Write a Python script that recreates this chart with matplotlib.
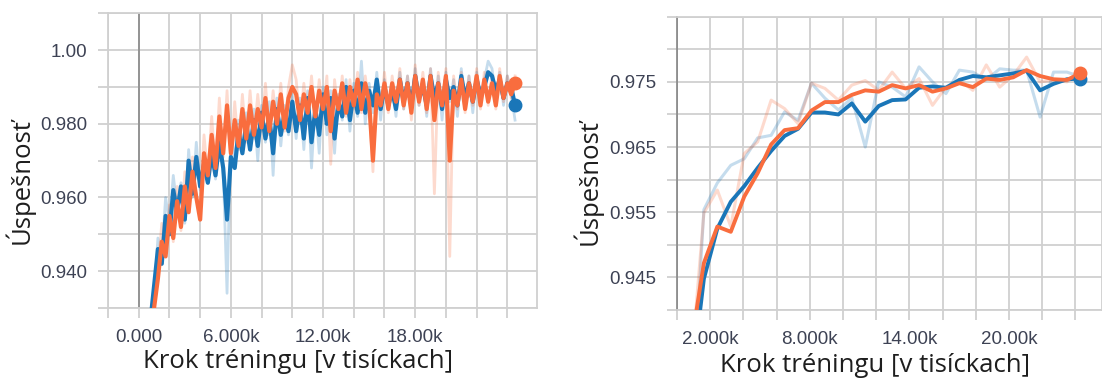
import matplotlib
matplotlib.use("Agg")
import matplotlib.pyplot as plt
from matplotlib.ticker import FixedLocator

# ---------------- data ----------------
# Left panel: training accuracy, steps in thousands
left_steps = [0.50, 0.75, 1.00, 1.25, 1.50, 1.75, 2.00, 2.25, 2.50, 2.75,
              3.00, 3.25, 3.50, 3.75, 4.00, 4.25, 4.50, 4.75, 5.00, 5.25,
              5.50, 5.75, 6.00, 6.25, 6.50, 6.75, 7.00, 7.25, 7.50, 7.75,
              8.00, 8.25, 8.50, 8.75, 9.00, 9.25, 9.50, 9.75, 10.00, 10.25,
              10.50, 10.75, 11.00, 11.25, 11.50, 11.75, 12.00, 12.25, 12.50, 12.75,
              13.00, 13.25, 13.50, 13.75, 14.00, 14.25, 14.50, 14.75, 15.00, 15.25,
              15.50, 15.75, 16.00, 16.25, 16.50, 16.75, 17.00, 17.25, 17.50, 17.75,
              18.00, 18.25, 18.50, 18.75, 19.00, 19.25, 19.50, 19.75, 20.00, 20.25,
              20.50, 20.75, 21.00, 21.25, 21.50, 21.75, 22.00, 22.25, 22.50, 22.75,
              23.00, 23.25, 23.50, 23.75, 24.00, 24.25, 24.50]

# raw (pale) curves
left_blue_raw = [0.912, 0.928, 0.933, 0.949, 0.944, 0.960, 0.953, 0.966, 0.957, 0.964,
                 0.953, 0.973, 0.960, 0.975, 0.962, 0.972, 0.964, 0.975, 0.965, 0.977,
                 0.968, 0.934, 0.977, 0.970, 0.981, 0.972, 0.983, 0.973, 0.984, 0.970,
                 0.985, 0.975, 0.986, 0.966, 0.987, 0.974, 0.985, 0.977, 0.988, 0.976,
                 0.987, 0.973, 0.989, 0.968, 0.986, 0.972, 0.990, 0.977, 0.989, 0.972,
                 0.988, 0.981, 0.992, 0.978, 0.991, 0.982, 0.997, 0.980, 0.991, 0.983,
                 0.994, 0.981, 0.992, 0.984, 0.990, 0.982, 0.994, 0.984, 0.993, 0.983,
                 0.995, 0.985, 0.992, 0.982, 0.995, 0.985, 0.993, 0.981, 0.994, 0.986,
                 0.992, 0.982, 0.995, 0.985, 0.993, 0.983, 0.994, 0.986, 0.992, 0.997,
                 0.995, 0.987, 0.994, 0.985, 0.993, 0.988, 0.981]

left_orange_raw = [0.905, 0.918, 0.934, 0.940, 0.953, 0.945, 0.958, 0.948, 0.963, 0.951,
                   0.967, 0.956, 0.971, 0.960, 0.958, 0.977, 0.966, 0.982, 0.968, 0.987,
                   0.971, 0.989, 0.970, 0.986, 0.973, 0.988, 0.975, 0.989, 0.976, 0.988,
                   0.978, 0.991, 0.977, 0.989, 0.979, 0.991, 0.978, 0.990, 0.996, 0.992,
                   0.980, 0.991, 0.982, 0.993, 0.981, 0.992, 0.983, 0.993, 0.969, 0.992,
                   0.983, 0.993, 0.982, 0.992, 0.984, 0.994, 0.983, 0.993, 0.985, 0.967,
                   0.992, 0.984, 0.994, 0.983, 0.993, 0.985, 0.995, 0.984, 0.993, 0.981,
                   0.996, 0.985, 0.994, 0.983, 0.995, 0.961, 0.994, 0.984, 0.995, 0.944,
                   0.993, 0.984, 0.994, 0.983, 0.993, 0.985, 0.995, 0.984, 0.994, 0.985,
                   0.993, 0.984, 0.995, 0.986, 0.993, 0.987, 0.993]

# smoothed (dark) curves
left_blue_smooth = [0.908, 0.926, 0.936, 0.946, 0.942, 0.955, 0.950, 0.962, 0.956, 0.963,
                    0.954, 0.970, 0.961, 0.971, 0.963, 0.969, 0.964, 0.972, 0.966, 0.975,
                    0.968, 0.954, 0.971, 0.968, 0.978, 0.972, 0.980, 0.973, 0.981, 0.974,
                    0.983, 0.976, 0.982, 0.972, 0.984, 0.977, 0.983, 0.978, 0.986, 0.978,
                    0.985, 0.976, 0.987, 0.975, 0.984, 0.977, 0.988, 0.980, 0.987, 0.976,
                    0.986, 0.982, 0.990, 0.981, 0.989, 0.983, 0.991, 0.983, 0.989, 0.985,
                    0.992, 0.984, 0.990, 0.985, 0.989, 0.984, 0.992, 0.986, 0.991, 0.985,
                    0.993, 0.987, 0.990, 0.985, 0.993, 0.987, 0.991, 0.984, 0.992, 0.987,
                    0.990, 0.985, 0.993, 0.987, 0.991, 0.986, 0.992, 0.988, 0.990, 0.994,
                    0.993, 0.989, 0.992, 0.987, 0.991, 0.990, 0.985]

left_orange_smooth = [0.900, 0.915, 0.930, 0.938, 0.948, 0.944, 0.955, 0.949, 0.959, 0.952,
                      0.963, 0.956, 0.967, 0.960, 0.954, 0.972, 0.966, 0.977, 0.968, 0.982,
                      0.972, 0.985, 0.972, 0.981, 0.974, 0.984, 0.976, 0.985, 0.977, 0.984,
                      0.979, 0.987, 0.978, 0.986, 0.980, 0.988, 0.979, 0.987, 0.990, 0.988,
                      0.981, 0.988, 0.983, 0.990, 0.982, 0.989, 0.984, 0.990, 0.978, 0.989,
                      0.984, 0.991, 0.983, 0.990, 0.985, 0.992, 0.984, 0.991, 0.986, 0.970,
                      0.988, 0.985, 0.991, 0.984, 0.991, 0.986, 0.992, 0.985, 0.991, 0.983,
                      0.993, 0.986, 0.992, 0.984, 0.993, 0.981, 0.991, 0.985, 0.993, 0.970,
                      0.989, 0.985, 0.992, 0.984, 0.991, 0.986, 0.993, 0.985, 0.992, 0.986,
                      0.991, 0.985, 0.993, 0.987, 0.991, 0.988, 0.991]

# Right panel: validation accuracy, steps in thousands
right_steps = [0.81, 1.62, 2.43, 3.24, 4.05, 4.86, 5.67, 6.48, 7.29, 8.10,
               8.91, 9.72, 10.53, 11.34, 12.15, 12.96, 13.77, 14.58, 15.39, 16.20,
               17.01, 17.82, 18.63, 19.44, 20.25, 21.06, 21.87, 22.68, 23.49, 24.30]

right_blue_raw = [0.920, 0.9554, 0.9595, 0.9622, 0.9632, 0.9664, 0.9668, 0.9704, 0.9691, 0.9748,
                  0.9725, 0.9707, 0.9725, 0.9650, 0.9750, 0.9742, 0.9727, 0.9773, 0.9750, 0.9732,
                  0.9768, 0.9765, 0.9753, 0.9770, 0.9768, 0.9768, 0.9696, 0.9765, 0.9765, 0.9758]
right_blue_smooth = [0.9276, 0.9448, 0.9525, 0.9566, 0.9590, 0.9618, 0.9644, 0.9667, 0.9678, 0.9703,
                     0.9703, 0.9700, 0.9717, 0.9689, 0.9713, 0.9722, 0.9723, 0.9741, 0.9743, 0.9741,
                     0.9753, 0.9759, 0.9757, 0.9760, 0.9763, 0.9767, 0.9737, 0.9747, 0.9754, 0.9755]
right_orange_raw = [0.930, 0.9549, 0.9584, 0.9528, 0.9640, 0.9658, 0.9722, 0.9709, 0.9686, 0.9748,
                    0.9740, 0.9722, 0.9745, 0.9752, 0.9737, 0.9765, 0.9740, 0.9755, 0.9714, 0.9742,
                    0.9753, 0.9737, 0.9776, 0.9742, 0.9760, 0.9788, 0.9750, 0.9753, 0.9750, 0.9770]
right_orange_smooth = [0.9340, 0.9472, 0.9528, 0.9520, 0.9574, 0.9610, 0.9654, 0.9676, 0.9679, 0.9706,
                       0.9719, 0.9719, 0.9730, 0.9737, 0.9735, 0.9745, 0.9740, 0.9745, 0.9735, 0.9740,
                       0.9748, 0.9742, 0.9755, 0.9753, 0.9757, 0.9768, 0.9759, 0.9754, 0.9753, 0.9763]

left_xticks = [0, 6, 12, 18]
left_xticklabels = ["0.000", "6.000k", "12.00k", "18.00k"]
left_yticks = [1.00, 0.98, 0.96, 0.94]
left_yticklabels = ["1.00", "0.980", "0.960", "0.940"]
right_xticks = [2, 8, 14, 20]
right_xticklabels = ["2.000k", "8.000k", "14.00k", "20.00k"]
right_yticks = [0.975, 0.965, 0.955, 0.945]
right_yticklabels = ["0.975", "0.965", "0.955", "0.945"]

xlabel_text = "Krok tréningu [v tisíckach]"
ylabel_text = "Úspešnosť"

BLUE = "#1a76b8"
ORANGE = "#f96d3e"
GRID = "#d0d0d0"
ZERO = "#8f8f8f"
TICKCOL = "#3d4254"
LABELCOL = "#1e1e1e"

W, H = 1102, 379
fig = plt.figure(figsize=(W / 100, H / 100), dpi=100)

axL = fig.add_axes([108 / W, 1 - 308 / H, (537 - 108) / W, (308 - 13.3) / H])
axR = fig.add_axes([677 / W, 1 - 310 / H, (1102 - 677) / W, (310 - 16.7) / H])


def style(ax, xlim, ylim, grid_x, grid_y, xt, xtl, yt, ytl, xlab_pos, ylab_pos):
    ax.set_xlim(*xlim)
    ax.set_ylim(*ylim)
    for s in ax.spines.values():
        s.set_color(GRID)
        s.set_linewidth(1.3)
    ax.xaxis.set_major_locator(FixedLocator(grid_x))
    ax.yaxis.set_major_locator(FixedLocator(grid_y))
    ax.set_xticklabels([xtl[xt.index(v)] if v in xt else "" for v in grid_x])
    ylab = []
    for v in grid_y:
        m = [i for i, t in enumerate(yt) if abs(t - v) < 1e-9]
        ylab.append(ytl[m[0]] if m else "")
    ax.set_yticklabels(ylab)
    ax.grid(True, color=GRID, linewidth=1.3)
    ax.set_axisbelow(True)
    ax.tick_params(axis="both", length=7, width=1.3, color=GRID,
                   labelcolor=TICKCOL, labelsize=13.5)
    ax.tick_params(axis="y", pad=8)
    ax.tick_params(axis="x", pad=8)
    for lab in ax.get_xticklabels() + ax.get_yticklabels():
        lab.set_fontfamily("Liberation Sans")
    ax.axvline(0, color=ZERO, linewidth=1.3, zorder=1.5)
    ax.set_xlabel(xlabel_text, fontsize=18.5, color=LABELCOL, family="Open Sans")
    ax.set_ylabel(ylabel_text, fontsize=18.5, color=LABELCOL, family="Open Sans")
    ax.xaxis.set_label_coords(*xlab_pos)
    ax.yaxis.set_label_coords(*ylab_pos)


# Left panel
style(axL, (-2.0, 25.93), (0.930, 1.010),
      list(range(-2, 25, 2)), [0.93 + 0.01 * i for i in range(9)],
      left_xticks, left_xticklabels, left_yticks, left_yticklabels,
      (0.443, -0.140), (-0.170, 0.431))
axL.plot(left_steps, left_blue_raw, color=BLUE, alpha=0.25, lw=2.0, zorder=2)
axL.plot(left_steps, left_orange_raw, color=ORANGE, alpha=0.25, lw=2.0, zorder=2)
axL.plot(left_steps, left_blue_smooth, color=BLUE, lw=3.0, zorder=3)
axL.plot(left_steps, left_orange_smooth, color=ORANGE, lw=3.0, zorder=4)
axL.plot([left_steps[-1]], [left_blue_smooth[-1]], "o", color=BLUE, ms=9, zorder=5)
axL.plot([left_steps[-1]], [left_orange_smooth[-1]], "o", color=ORANGE, ms=9, zorder=5)

# Right panel
style(axR, (0, 25.6), (0.940, 0.985),
      list(range(0, 26, 2)), [0.94 + 0.005 * i for i in range(10)],
      right_xticks, right_xticklabels, right_yticks, right_yticklabels,
      (0.466, -0.145), (-0.176, 0.436))
axR.spines["left"].set_color(ZERO)
axR.plot(right_steps, right_blue_raw, color=BLUE, alpha=0.25, lw=2.2, zorder=2)
axR.plot(right_steps, right_orange_raw, color=ORANGE, alpha=0.25, lw=2.2, zorder=2)
axR.plot(right_steps, right_blue_smooth, color=BLUE, lw=2.8, zorder=3)
axR.plot(right_steps, right_orange_smooth, color=ORANGE, lw=2.8, zorder=4)
axR.plot([right_steps[-1]], [right_blue_smooth[-1]], "o", color=BLUE, ms=9, zorder=5, clip_on=False)
axR.plot([right_steps[-1]], [right_orange_smooth[-1]], "o", color=ORANGE, ms=9, zorder=6, clip_on=False)

fig.savefig("out.png", dpi=100)
